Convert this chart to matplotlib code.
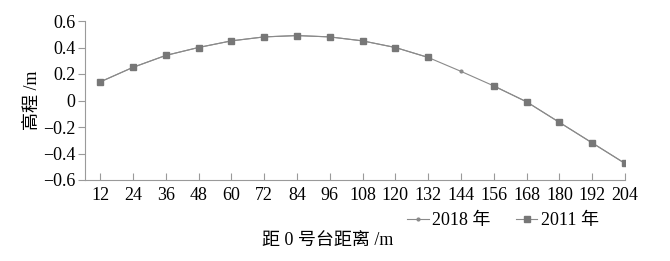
import matplotlib
matplotlib.use("Agg")
import matplotlib.pyplot as plt
import numpy as np

plt.rcParams['font.family'] = ['Liberation Serif', 'Noto Sans CJK SC']

distances = [12, 24, 36, 48, 60, 72, 84, 96, 108, 120, 132, 144, 156, 168, 180, 192, 204]
elev_2018 = [0.14, 0.25, 0.34, 0.40, 0.45, 0.48, 0.49, 0.48, 0.45, 0.40, 0.325, 0.22, 0.11, -0.01, -0.165, -0.32, -0.475]
elev_2011 = [0.14, 0.25, 0.34, 0.40, 0.45, 0.48, 0.49, 0.48, 0.45, 0.40, 0.325, np.nan, 0.11, -0.01, -0.165, -0.32, -0.475]
yticks = [-0.6, -0.4, -0.2, 0, 0.2, 0.4, 0.6]
ytick_labels = ['\u22120.6', '\u22120.4', '\u22120.2', '0', '0.2', '0.4', '0.6']

fig = plt.figure(figsize=(6.7, 2.61), dpi=100)
ax = fig.add_axes([85/670, 1-180/261, 540/670, 159/261])

axis_col = '#9a9a9a'
line_col = '#8a8a8a'
mk_col = '#777777'

x = np.arange(len(distances))
l1, = ax.plot(x, elev_2018, color=line_col, lw=0.8, marker='o', markersize=2, label='2018 年', zorder=3)
l2, = ax.plot(x, elev_2011, color=line_col, lw=0.8, marker='s', markersize=4.5,
              markerfacecolor=mk_col, markeredgecolor=mk_col, label='2011 年', zorder=4)

ax.set_xlim(-0.46, len(distances) - 1)
ax.set_ylim(-0.6, 0.6)
ax.set_xticks(x)
ax.set_xticklabels([str(d) for d in distances], fontsize=13)
ax.set_yticks(yticks)
ax.set_yticklabels(ytick_labels, fontsize=13)

for s in ['top', 'right']:
    ax.spines[s].set_visible(False)
for s in ['left', 'bottom']:
    ax.spines[s].set_color(axis_col)
    ax.spines[s].set_linewidth(0.8)

ax.tick_params(axis='x', direction='in', length=5, color=axis_col, width=0.8, pad=5)
ax.tick_params(axis='y', direction='out', length=5, color=axis_col, width=0.8, pad=2)

fig.text(33/670, 1-100/261, '高程 /m', rotation=90, ha='center', va='center', fontsize=13)
fig.text(328/670, 1-240/261, '距 0 号台距离 /m', ha='center', va='center', fontsize=13)

fig.legend(handles=[l1, l2], loc='center', bbox_to_anchor=(503/670, 1-221/261), ncol=2,
           frameon=False, fontsize=13, handlelength=1.2, handletextpad=0.2, columnspacing=1.4)

fig.savefig('out.png', dpi=100)
